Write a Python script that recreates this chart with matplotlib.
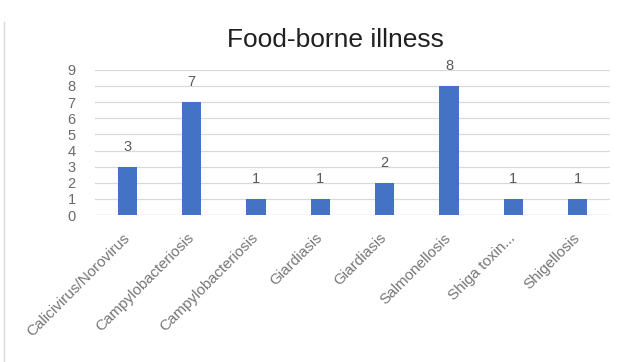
import matplotlib
matplotlib.use("Agg")
import matplotlib.pyplot as plt
from matplotlib.lines import Line2D

categories = ["Calicivirus/Norovirus", "Campylobacteriosis", "Campylobacteriosis",
              "Giardiasis", "Giardiasis", "Salmonellosis", "Shiga toxin...", "Shigellosis"]
counts = [3, 7, 1, 1, 2, 8, 1, 1]
y_ticks = list(range(0, 10))

plt.rcParams["font.family"] = ["Liberation Sans", "DejaVu Sans"]

fig = plt.figure(figsize=(6.21, 3.62), dpi=100)
ax = fig.add_axes([0.153, 0.406, 0.829, 0.401])

x = list(range(len(categories)))
ax.bar(x, counts, width=0.3, color="#4472C4", zorder=3)
for xi, v in zip(x, counts):
    ax.text(xi, v + 0.8, str(v), ha="center", va="bottom", fontsize=10.5, color="#595959")

ax.set_xlim(-0.5, len(categories) - 0.5)
ax.set_ylim(0, 9)
ax.set_yticks(y_ticks)
ax.set_yticklabels([str(t) for t in y_ticks], fontsize=10.5, color="#6b6b6b")
ax.yaxis.grid(True, color="#d9d9d9", linewidth=0.9, zorder=0)
ax.tick_params(axis="y", length=0, pad=14)
ax.tick_params(axis="x", length=0, pad=15)
for s in ax.spines.values():
    s.set_visible(False)
ax.axhline(0, color="#d9d9d9", linewidth=0.9, zorder=1)

ax.set_xticks(x)
ax.set_xticklabels(categories, rotation=45, ha="right", va="center", rotation_mode="anchor",
                   fontsize=11, color="#767676")

fig.text(0.54, 0.89, "Food-borne illness", ha="center", va="center", fontsize=19, color="#202020")

fig.add_artist(Line2D([0.006, 0.006], [0.0, 0.94], transform=fig.transFigure,
                      color="#d9d9d9", linewidth=1))

fig.savefig("out.png", dpi=100, facecolor="white")
